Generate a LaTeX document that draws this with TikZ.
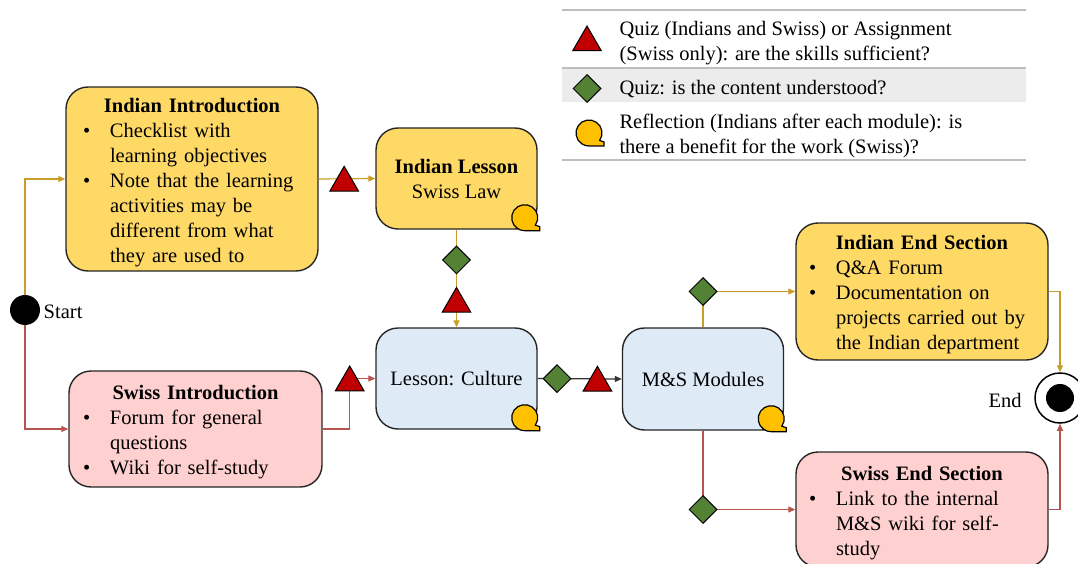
\documentclass[tikz,border=0pt]{standalone}
\usepackage{fontspec}
\setmainfont{Liberation Serif}
\usepackage{tikz}
\usetikzlibrary{arrows.meta,positioning,shapes.geometric}
\definecolor{indfill}{RGB}{255,217,102}
\definecolor{swfill}{RGB}{255,208,208}
\definecolor{lesfill}{RGB}{222,234,246}
\definecolor{goldline}{RGB}{200,158,40}
\definecolor{redline}{RGB}{184,84,80}
\definecolor{tokred}{RGB}{192,0,0}
\definecolor{tokgreen}{RGB}{84,130,53}
\definecolor{reflyellow}{RGB}{255,192,0}
\definecolor{legband}{RGB}{236,236,236}
\definecolor{legline}{RGB}{190,190,190}
\newcommand{\dfont}{\fontsize{20.5}{25}\selectfont}
\newcommand{\bul}{\makebox[27pt][l]{\textbullet}}
\newcommand{\cont}{\hspace*{27pt}}
\newcommand{\listend}{\par\vspace*{-7pt}}

\begin{document}
\begin{tikzpicture}[x=1pt,y=-1pt,
  box/.style={draw=black!85,line width=1.4pt,rounded corners=22pt,align=center,font=\dfont,inner sep=0pt},
  listbox/.style={box,align=left,execute at end node=\listend},
  tri/.style={regular polygon,regular polygon sides=3,minimum size=33pt,inner sep=0pt,draw=black,line width=1pt,fill=tokred,yshift=-4pt},
  dia/.style={diamond,minimum width=28pt,minimum height=28pt,inner sep=0pt,draw=black,line width=1pt,fill=tokgreen},
  goldarr/.style={-{Triangle[length=7pt,width=6pt]},line width=1.2pt,goldline},
  redarr/.style={-{Triangle[length=7pt,width=6pt]},line width=1.2pt,redline},
  blkarr/.style={-{Triangle[length=7pt,width=6pt]},line width=1.2pt,black!80},
  lbl/.style={font=\dfont},
  refl/.pic={\draw[fill=reflyellow,line width=1.2pt,shift={(-13,-12)},yscale=-1] (-35:13) arc (-35:270:13) -- (15,-13) -- (15,-9) -- cycle;}]
\useasboundingbox (0,0) rectangle (1078,564);
% legend
\fill[legband] (562,68) rectangle (1026,102);
\draw[legline,line width=1.6pt] (562,10) -- (1026,10) (562,68) -- (1026,68) (562,160) -- (1026,160);
\node[tri] (legtri) at (587,38.5) {};
\node[dia] (legdia) at (587,88.5) {};
\pic at (602,145) {refl};
\node[lbl,anchor=west,align=left] (legquiz) at (616,43.5) {Quiz (Indians and Swiss) or Assignment\\(Swiss only): are the skills sufficient?};
\node[lbl,anchor=west] (legcont) at (616,89.5) {Quiz: is the content understood?};
\node[lbl,anchor=west,align=left] (legrefl) at (616,136) {Reflection (Indians after each module): is\\there a benefit for the work (Swiss)?};
% flow
\node[circle,fill=black,minimum size=30pt,inner sep=0pt] (start) at (25,310) {};
\node[lbl,right=0pt of start,yshift=-2pt] (startlbl) {Start};
\node[listbox,fill=indfill,minimum width=252pt,minimum height=184pt,text width=218pt] (indintro) at (192,179) {{\centering\bfseries Indian Introduction\par}
  \bul Checklist with\\ \cont learning objectives\\ \bul Note that the learning\\ \cont activities may be\\ \cont different from what\\ \cont they are used to};
\node[listbox,fill=swfill,minimum width=253pt,minimum height=116pt,text width=225pt] (swintro) at (195.5,429) {{\centering\bfseries Swiss Introduction\par}
  \bul Forum for general\\ \cont questions\\ \bul Wiki for self-study};
\node[box,fill=indfill,minimum width=161pt,minimum height=101pt,text depth=0pt] (indlesson) at (456.5,178.5) {\textbf{Indian Lesson}\\Swiss Law};
\node[box,fill=lesfill,minimum width=161pt,minimum height=101pt,text depth=0pt] (culture) at (456.5,378.5) {Lesson: Culture};
\node[box,fill=lesfill,minimum width=161pt,minimum height=102pt,text depth=0pt] (modules) at (703,379) {M\&S Modules};
\node[listbox,fill=indfill,minimum width=252pt,minimum height=137pt,text width=226pt] (indend) at (922,291.5) {{\centering\bfseries Indian End Section\par}
  \bul Q\&A Forum\\ \bul Documentation on\\ \cont projects carried out by\\ \cont the Indian department};
\node[listbox,fill=swfill,minimum width=252pt,minimum height=115pt,text width=226pt] (swend) at (922,509.5) {{\centering\bfseries Swiss End Section\par}
  \bul Link to the internal\\ \cont M\&S wiki for self-\\ \cont study};
\node[circle,draw=black,line width=1.5pt,minimum size=50pt,inner sep=0pt] (endnode) at (1060,398) {};
\fill (endnode.center) circle (14pt);
\node[lbl,left=9pt of endnode,yshift=-2pt] (endlbl) {End};
\draw[goldarr] (start.north) |- (indintro.west); \draw[redarr] (start.south) |- (swintro.west);
\draw[goldarr] (indintro.east) -- node[tri,pos=0.45]{} (indlesson.west);
\draw[goldarr] (indlesson.south) -- node[dia,pos=0.31]{} node[tri,pos=0.72]{} (culture.north);
\draw[redarr] (swintro.east) -- ++(27,0) |- node[tri,pos=0.5]{} (culture.west);
\draw[blkarr] (culture.east) -- node[dia,pos=0.23]{} node[tri,pos=0.71]{} (modules.west);
\draw[goldarr] (modules.north) |- node[dia,pos=0.5]{} (indend.west);
\draw[redarr] (modules.south) |- node[dia,pos=0.5]{} (swend.west);
\draw[goldarr] (indend.east) -| (endnode.north); \draw[redarr] (swend.east) -| (endnode.south);
\pic at (indlesson.south east) {refl}; \pic at (culture.south east) {refl}; \pic at (modules.south east) {refl};
\end{tikzpicture}
\end{document}
